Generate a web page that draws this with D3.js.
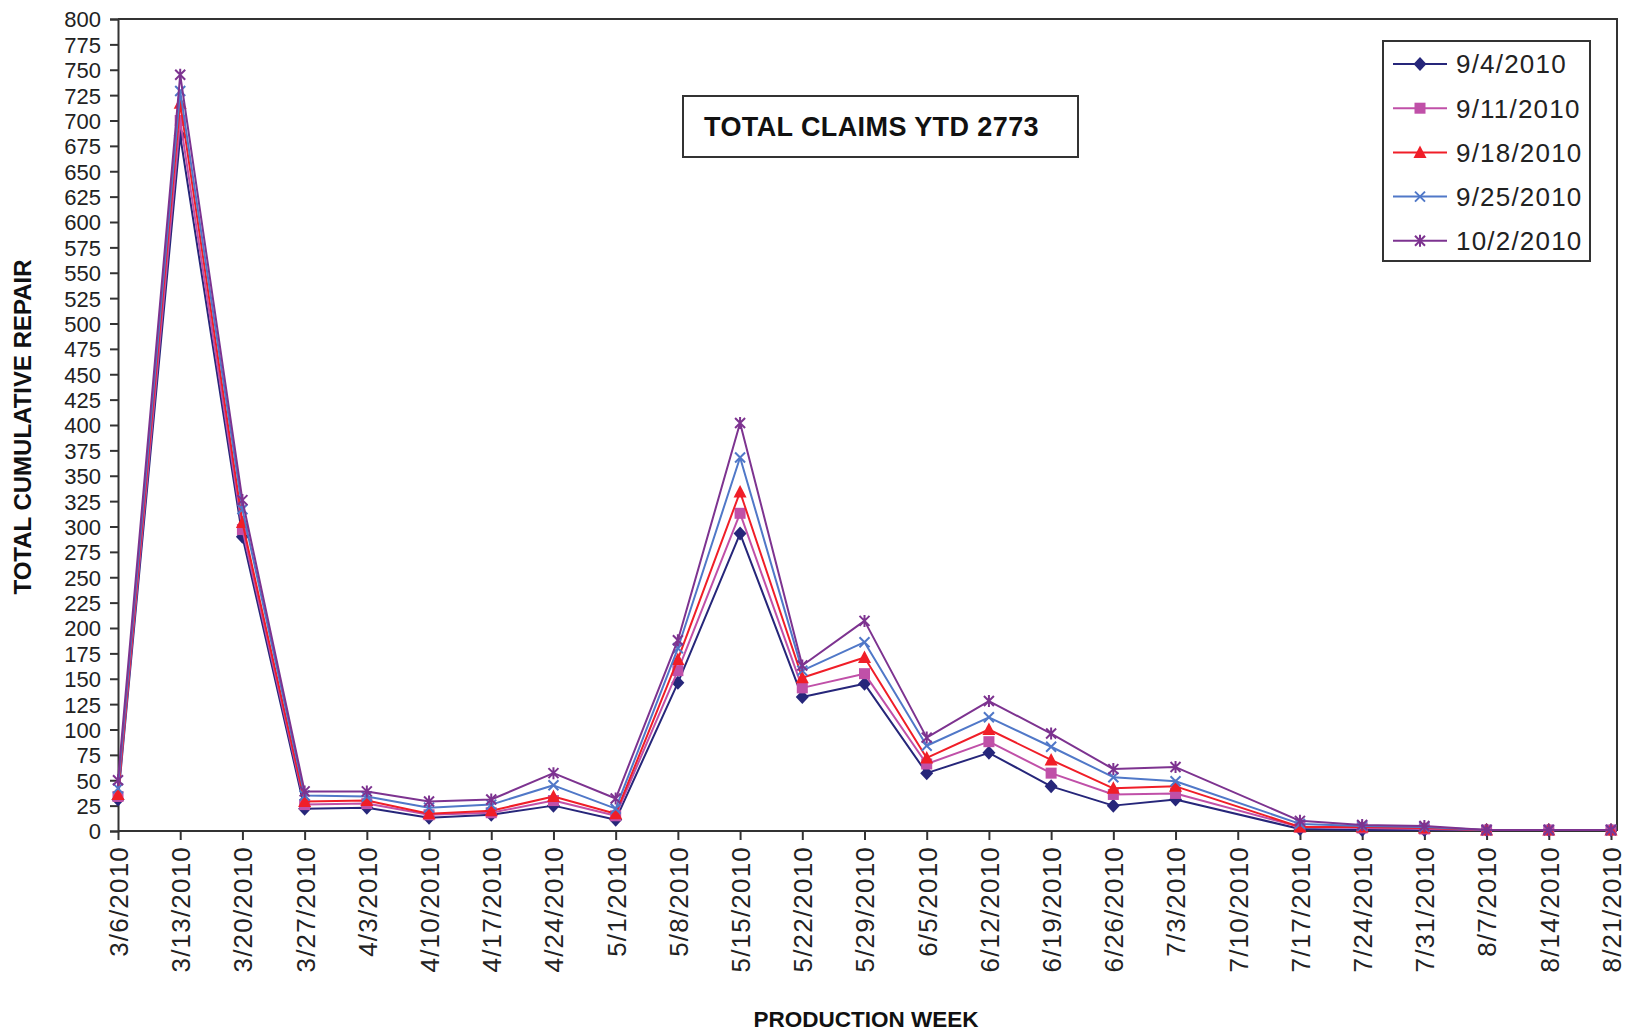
<!DOCTYPE html>
<html><head><meta charset="utf-8">
<script src="https://cdn.jsdelivr.net/npm/d3@7"></script>
<style>
html,body{margin:0;padding:0;background:#fff;}
svg{display:block;font-family:"Liberation Sans",Arial,sans-serif;}
</style></head>
<body>
<svg id="chart" width="1625" height="1034"></svg>
<script>
const weeks = ["3/6/2010","3/13/2010","3/20/2010","3/27/2010","4/3/2010","4/10/2010","4/17/2010","4/24/2010","5/1/2010","5/8/2010","5/15/2010","5/22/2010","5/29/2010","6/5/2010","6/12/2010","6/19/2010","6/26/2010","7/3/2010","7/10/2010","7/17/2010","7/24/2010","7/31/2010","8/7/2010","8/14/2010","8/21/2010"];
const yTickValues = [0,25,50,75,100,125,150,175,200,225,250,275,300,325,350,375,400,425,450,475,500,525,550,575,600,625,650,675,700,725,750,775,800];
const seriesNames = ["9/4/2010","9/11/2010","9/18/2010","9/25/2010","10/2/2010"];
const s0904 = [31, 685, 290, 22, 23, 13, 16, 25, 11, 146, 293, 132, 145, 57, 77, 44, 25, 31, null, 2, 1, 1, 1, 1, 1];
const s0911 = [34, 700, 297, 26, 27, 16, 18, 30, 15, 158, 313, 141, 155, 66, 88, 57, 36, 37, null, 4, 3, 2, 1, 1, 1];
const s0918 = [36, 717, 304, 29, 30, 17, 20, 34, 17, 169, 334, 151, 171, 72, 100, 70, 42, 44, null, 4, 4, 3, 1, 1, 1];
const s0925 = [42, 729, 317, 35, 34, 23, 26, 45, 22, 180, 368, 158, 186, 84, 112, 83, 53, 49, null, 7, 5, 4, 1, 1, 1];
const s1002 = [50, 745, 326, 39, 39, 29, 31, 57, 32, 188, 402, 163, 207, 92, 128, 96, 61, 63, null, 10, 6, 5, 1, 1, 1];
const seriesValues = [s0904, s0911, s0918, s0925, s1002];
const seriesColors = ["#26267a", "#c050a8", "#f01e28", "#5078c8", "#7d3390"];
const seriesMarkers = ["diamond", "square", "triangle", "x", "star"];
const titleText = "TOTAL CLAIMS YTD 2773";
const xTitle = "PRODUCTION WEEK";
const yTitle = "TOTAL CUMULATIVE REPAIR";

(function () {
const svg = d3.select("#chart");
const pL = 118, pR = 1611, pT = 19, pB = 831, frameRight = 1617;

const x = d3.scalePoint().domain(weeks).range([pL, pR]);
const y = d3.scaleLinear().domain([0, 800]).range([pB, pT]);

const axisColor = "#333";

// frame (top and right)
svg.append("path")
  .attr("d", `M${pL},${pT}H${frameRight}V${pB}`)
  .attr("fill", "none").attr("stroke", axisColor).attr("stroke-width", 2);

// y axis
const yAxis = d3.axisLeft(y).tickValues(yTickValues).tickSize(8).tickPadding(9);
const gy = svg.append("g").attr("transform", `translate(${pL},0)`).call(yAxis);
gy.select(".domain").attr("stroke", axisColor).attr("stroke-width", 2);
gy.selectAll(".tick line").attr("stroke", axisColor).attr("stroke-width", 2);
gy.selectAll(".tick text").attr("font-size", 22).attr("fill", "#222")
  .attr("font-family", "Liberation Sans, Arial, sans-serif")
  .attr("dy", "0.36em");

// x axis
const xAxis = d3.axisBottom(x).tickSize(9).tickPadding(0);
const gx = svg.append("g").attr("transform", `translate(0,${pB})`).call(xAxis);
gx.select(".domain").attr("d", `M${pL},0H${frameRight}`).attr("stroke", axisColor).attr("stroke-width", 2);
gx.selectAll(".tick line").attr("stroke", axisColor).attr("stroke-width", 2);
gx.selectAll(".tick text")
  .attr("font-size", 26).attr("fill", "#222")
  .attr("font-family", "Liberation Sans, Arial, sans-serif")
  .style("letter-spacing", "1.2px")
  .attr("text-anchor", "end")
  .attr("transform", "translate(0,15) rotate(-90)")
  .attr("x", 0).attr("y", 0).attr("dy", "0.36em");

// axis titles
svg.append("text").attr("x", 866).attr("y", 1027).attr("text-anchor", "middle")
  .attr("font-size", 22.5).attr("font-weight", "bold").attr("fill", "#111")
  .text(xTitle);
svg.append("text").attr("transform", "translate(31,427) rotate(-90)").attr("text-anchor", "middle")
  .attr("font-size", 24).attr("font-weight", "bold").attr("fill", "#111")
  .text(yTitle);

// marker drawing
function drawMarker(g, type, color, cx, cy) {
  if (type === "diamond") {
    g.append("path").attr("d", `M${cx},${cy-7}L${cx+6.5},${cy}L${cx},${cy+7}L${cx-6.5},${cy}Z`)
      .attr("fill", color);
  } else if (type === "square") {
    g.append("rect").attr("x", cx-5.5).attr("y", cy-5.5).attr("width", 11).attr("height", 11)
      .attr("fill", color);
  } else if (type === "triangle") {
    g.append("path").attr("d", `M${cx},${cy-7}L${cx+6.5},${cy+5.5}L${cx-6.5},${cy+5.5}Z`)
      .attr("fill", color);
  } else if (type === "x") {
    g.append("path").attr("d", `M${cx-5},${cy-5}L${cx+5},${cy+5}M${cx-5},${cy+5}L${cx+5},${cy-5}`)
      .attr("stroke", color).attr("stroke-width", 2).attr("fill", "none");
  } else if (type === "star") {
    g.append("path").attr("d", `M${cx-5},${cy-5}L${cx+5},${cy+5}M${cx-5},${cy+5}L${cx+5},${cy-5}M${cx},${cy-6}V${cy+6}`)
      .attr("stroke", color).attr("stroke-width", 2).attr("fill", "none");
  }
}

// series
const line = d3.line().x(d => x(d.w)).y(d => y(d.v));
seriesValues.forEach((vals, i) => {
  const pts = vals.map((v, j) => ({w: weeks[j], v})).filter(d => d.v !== null);
  const g = svg.append("g");
  g.append("path").datum(pts).attr("d", line)
    .attr("fill", "none").attr("stroke", seriesColors[i]).attr("stroke-width", 2)
    .attr("stroke-linejoin", "round");
  pts.forEach(d => drawMarker(g, seriesMarkers[i], seriesColors[i], x(d.w), y(d.v)));
});

// title box
svg.append("rect").attr("x", 683).attr("y", 96).attr("width", 395).attr("height", 61)
  .attr("fill", "#fff").attr("stroke", "#333").attr("stroke-width", 2);
svg.append("text").attr("x", 704).attr("y", 136).attr("font-size", 27).attr("font-weight", "bold")
  .style("letter-spacing", "0.4px").attr("fill", "#111").text(titleText);

// legend
const lg = svg.append("g");
lg.append("rect").attr("x", 1383).attr("y", 41).attr("width", 207).attr("height", 220)
  .attr("fill", "#fff").attr("stroke", "#333").attr("stroke-width", 2);
seriesNames.forEach((name, i) => {
  const cy = 64 + i * 44.2;
  lg.append("line").attr("x1", 1393).attr("x2", 1447).attr("y1", cy).attr("y2", cy)
    .attr("stroke", seriesColors[i]).attr("stroke-width", 2);
  drawMarker(lg, seriesMarkers[i], seriesColors[i], 1420, cy);
  lg.append("text").attr("x", 1456).attr("y", cy).attr("dy", "0.36em")
    .attr("font-size", 26).attr("fill", "#222").style("letter-spacing", "1.2px").text(name);
});
})();
</script>
</body></html>
